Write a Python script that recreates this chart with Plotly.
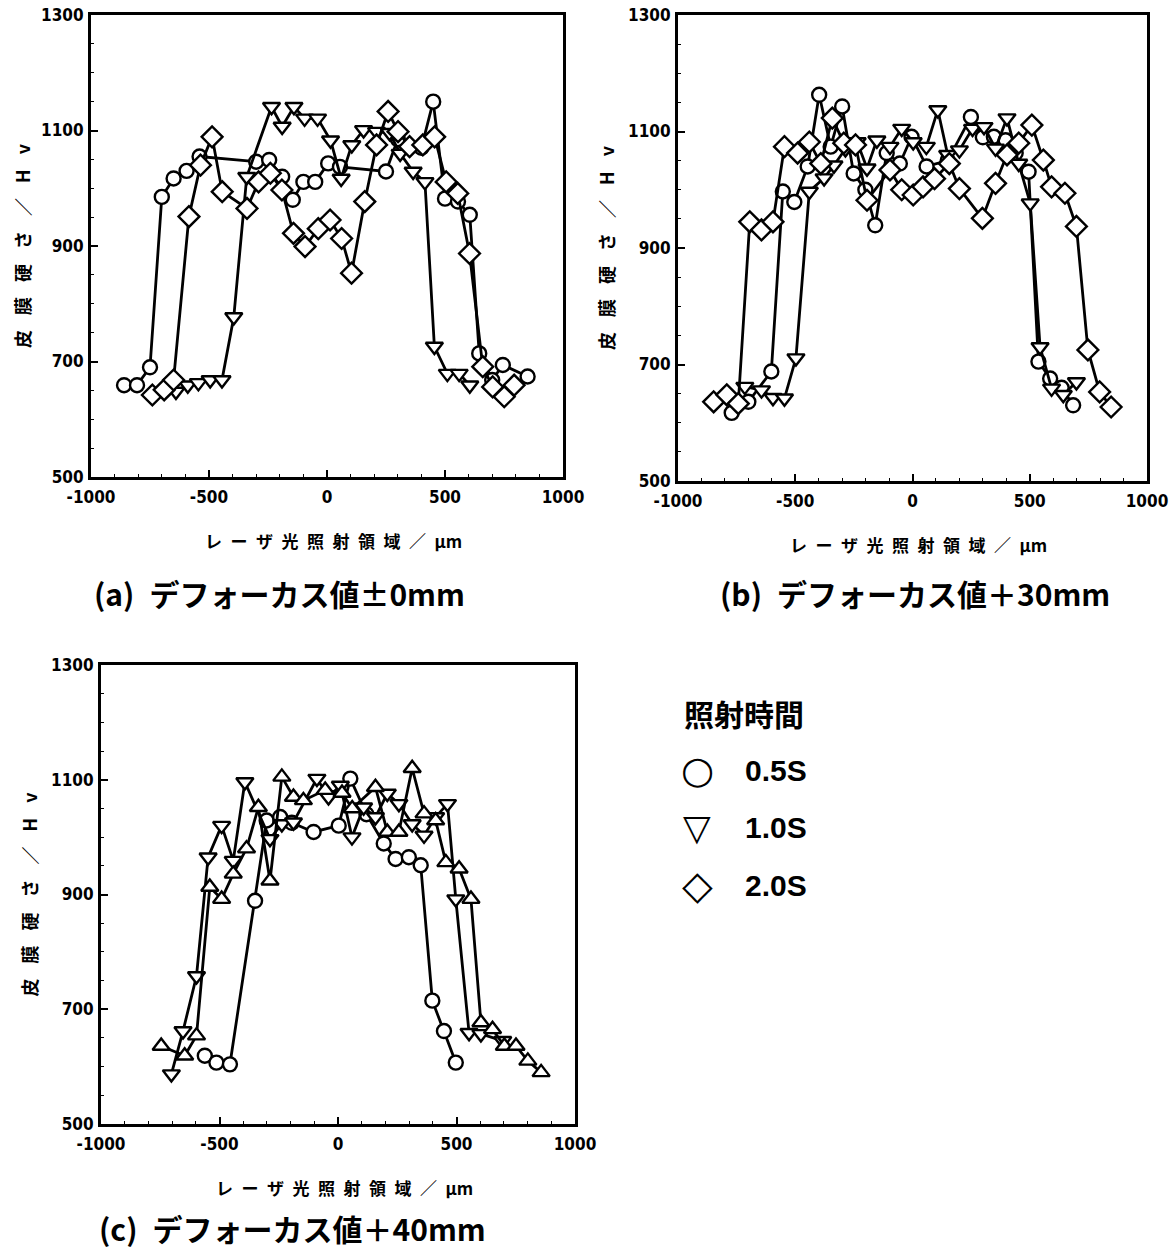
import plotly.graph_objects as go

# ---------------- data: hardness profiles across the laser-irradiated zone ----------------
# (a) defocus ±0 mm
a_05_x = [-860, -805, -750, -700, -650, -595, -540, -300, -245, -190, -145, -100, -50, 5, 55, 250, 300, 400, 450, 500, 555, 605, 645, 700, 745, 850]
a_05_y = [659, 659, 690, 985, 1017, 1030, 1055, 1046, 1049, 1020, 980, 1011, 1011, 1043, 1037, 1029, 1085, 1070, 1150, 982, 977, 954, 714, 668, 694, 674]
a_10_x = [-640, -590, -545, -495, -445, -395, -340, -235, -190, -140, -95, -40, 15, 60, 105, 155, 210, 265, 310, 365, 415, 455, 510, 560, 605]
a_10_y = [648, 659, 663, 668, 668, 777, 1020, 1141, 1107, 1141, 1121, 1121, 1083, 1017, 1075, 1101, 1098, 1096, 1060, 1029, 1011, 726, 679, 679, 659]
a_20_x = [-740, -690, -650, -585, -536, -487, -444, -339, -290, -240, -191, -142, -93, -37, 13, 62, 104, 160, 210, 259, 301, 350, 406, 456, 505, 554, 604, 660, 702, 751, 793]
a_20_y = [642, 651, 668, 951, 1040, 1089, 994, 965, 1011, 1026, 997, 922, 899, 930, 945, 913, 853, 977, 1075, 1133, 1098, 1072, 1075, 1089, 1011, 991, 887, 691, 656, 639, 659]

# (b) defocus +30 mm
b_05_x = [-771, -700, -602, -553, -504, -447, -398, -349, -300, -251, -201, -159, -110, -54, -4, 60, 150, 249, 300, 347, 397, 440, 495, 537, 587, 636, 685]
b_05_y = [617, 636, 688, 997, 979, 1040, 1163, 1074, 1143, 1028, 1000, 939, 1063, 1045, 1091, 1040, 1050, 1125, 1090, 1091, 1085, 1063, 1031, 705, 676, 660, 630]
b_10_x = [-715, -644, -595, -546, -497, -440, -377, -335, -286, -236, -194, -152, -96, -46, 3, 59, 108, 150, 200, 256, 305, 354, 403, 453, 502, 544, 593, 643, 699]
b_10_y = [662, 656, 643, 642, 711, 997, 1020, 1042, 1070, 1082, 1037, 1085, 1074, 1105, 1082, 1074, 1137, 1060, 1068, 1105, 1108, 1071, 1123, 1045, 977, 730, 659, 648, 670]
b_20_x = [-848, -792, -743, -694, -644, -595, -546, -490, -440, -391, -342, -293, -243, -194, -96, -46, 3, 45, 94, 157, 200, 298, 354, 403, 453, 509, 558, 593, 650, 699, 748, 798, 847]
b_20_y = [636, 648, 633, 945, 931, 945, 1074, 1063, 1082, 1045, 1123, 1080, 1077, 982, 1034, 1000, 991, 1005, 1019, 1045, 1002, 951, 1011, 1060, 1080, 1111, 1051, 1005, 994, 937, 725, 653, 627]

# (c) defocus +40 mm
c_05_x = [-562, -513, -456, -350, -301, -244, -195, -103, 3, 52, 120, 193, 243, 299, 349, 398, 447, 497]
c_05_y = [619, 607, 604, 889, 1029, 1035, 1025, 1009, 1020, 1102, 1040, 989, 962, 965, 951, 715, 662, 607]
c_10_x = [-703, -654, -597, -548, -491, -442, -393, -287, -237, -188, -89, -40, 10, 59, 108, 158, 208, 257, 313, 363, 412, 462, 497, 553, 603, 695]
c_10_y = [587, 662, 758, 965, 1020, 959, 1096, 997, 1023, 1026, 1102, 1070, 1090, 1000, 1052, 1035, 1076, 1058, 1023, 1003, 1035, 1058, 892, 659, 657, 645]
c_20_x = [-746, -647, -597, -541, -491, -442, -386, -336, -287, -237, -188, -146, -54, 17, 60, 158, 208, 257, 313, 363, 412, 455, 511, 561, 603, 652, 702, 751, 801, 857]
c_20_y = [636, 619, 654, 913, 892, 936, 980, 1052, 924, 1105, 1070, 1064, 1082, 1077, 1050, 1087, 1009, 1009, 1120, 1041, 1029, 956, 945, 892, 677, 665, 636, 636, 610, 590]

x_tick_vals = [-1000, -500, 0, 500, 1000]
x_tick_labels = ["-1000", "-500", "0", "500", "1000"]
y_tick_vals = [500, 700, 900, 1100, 1300]
y_tick_labels = ["500", "700", "900", "1100", "1300"]

panel_titles = ["(a)\u2002デフォーカス値±0mm", "(b)\u2002デフォーカス値＋30mm", "(c)\u2002デフォーカス値＋40mm"]
x_title = "\u2002".join(["レ", "ー", "ザ", "光", "照", "射", "領", "域", "／", "μm"])
y_title = "\u2002\u2004".join(["皮", "膜", "硬", "さ", "／", "H", "v"])
legend_title = "照射時間"
legend_labels = ["0.5S", "1.0S", "2.0S"]
legend_glyphs = ["○", "▽", "◇"]

# ---------------- layout geometry (paper px) ----------------
W, H = 1176, 1251
panels = [
    # (left, right, top, bottom) in px
    (91, 563, 15, 477),
    (678, 1147, 15, 481),
    (101, 575, 665, 1124),
]
y_title_x = [22, 606, 28]

CJK = "Noto Sans CJK JP"
NUM = "DejaVu Sans Condensed"

fig = go.Figure()

series = [
    [(a_05_x, a_05_y, "circle"), (a_10_x, a_10_y, "triangle-down"), (a_20_x, a_20_y, "diamond")],
    [(b_05_x, b_05_y, "circle"), (b_10_x, b_10_y, "triangle-down"), (b_20_x, b_20_y, "diamond")],
    [(c_05_x, c_05_y, "circle"), (c_10_x, c_10_y, "triangle-down"), (c_20_x, c_20_y, "triangle-up")],
]
sizes = {"circle": 14, "triangle-down": 15, "diamond": 16, "triangle-up": 15}

for i, panel in enumerate(series):
    xa = "x" if i == 0 else f"x{i+1}"
    ya = "y" if i == 0 else f"y{i+1}"
    for xs, ys, sym in panel:
        fig.add_trace(go.Scatter(
            x=xs, y=ys, xaxis=xa, yaxis=ya, mode="lines+markers",
            line=dict(color="black", width=2.8),
            marker=dict(symbol=sym, size=sizes[sym], color="white",
                        line=dict(color="black", width=2.4)),
            showlegend=False, cliponaxis=False,
        ))

axis_common = dict(
    showline=True, linecolor="black", linewidth=3, mirror=True, automargin=False,
    showgrid=False, zeroline=False, ticks="inside", ticklen=7, tickwidth=2,
    tickcolor="black",
    tickfont=dict(family=NUM, size=17, color="black", weight="bold"),
    minor=dict(ticks="inside", ticklen=3, tickwidth=1, tickcolor="black"),
)

layout = dict(
    width=W, height=H, margin=dict(l=0, r=0, t=0, b=0, autoexpand=False),
    paper_bgcolor="white", plot_bgcolor="white", showlegend=False,
)
annotations = []
for i, (l, r, t, b) in enumerate(panels):
    sfx = "" if i == 0 else str(i + 1)
    layout["xaxis" + sfx] = dict(
        axis_common, domain=[l / W, r / W], range=[-1000, 1000],
        tickvals=x_tick_vals, ticktext=x_tick_labels, anchor="y" + sfx,
        minor=dict(axis_common["minor"], dtick=100), ticklabelstandoff=3,
    )
    layout["yaxis" + sfx] = dict(
        axis_common, domain=[1 - b / H, 1 - t / H], range=[500, 1300],
        tickvals=y_tick_vals, ticktext=y_tick_labels, anchor="x" + sfx,
        minor=dict(axis_common["minor"], dtick=50), ticklabelstandoff=1,
    )
    cx = (l + r) / 2
    # x axis title
    annotations.append(dict(
        text=x_title, xref="paper", yref="paper", x=(cx + 6) / W, y=1 - (b + 63) / H,
        showarrow=False, font=dict(family=CJK, size=17, color="black", weight="bold"),
        xanchor="center", yanchor="middle",
    ))
    # y axis title
    annotations.append(dict(
        text=y_title, xref="paper", yref="paper", x=y_title_x[i] / W, y=1 - ((t + b) / 2) / H,
        showarrow=False, textangle=-90,
        font=dict(family=CJK, size=18, color="black", weight="bold"),
        xanchor="center", yanchor="middle",
    ))

title_pos = [(92, 593), (718, 593), (97, 1228)]
for txt, (px, py) in zip(panel_titles, title_pos):
    annotations.append(dict(
        text=txt, xref="paper", yref="paper", x=px / W, y=1 - py / H,
        showarrow=False, font=dict(family=CJK, size=30, color="black", weight="bold"),
        xanchor="left", yanchor="middle",
    ))

# legend block
annotations.append(dict(
    text=legend_title, xref="paper", yref="paper", x=682 / W, y=1 - 713 / H,
    showarrow=False, font=dict(family=CJK, size=30, color="black", weight="bold"),
    xanchor="left", yanchor="middle",
))
glyph_sizes = [38, 36, 40]
for k, (g, lab) in enumerate(zip(legend_glyphs, legend_labels)):
    py = 770 + k * 57.5
    annotations.append(dict(
        text=g, xref="paper", yref="paper", x=697 / W, y=1 - py / H,
        showarrow=False, font=dict(family="DejaVu Sans", size=glyph_sizes[k], color="black"),
        xanchor="center", yanchor="middle",
    ))
    annotations.append(dict(
        text=lab, xref="paper", yref="paper", x=743 / W, y=1 - py / H,
        showarrow=False, font=dict(family="Liberation Sans", size=30, color="black", weight="bold"),
        xanchor="left", yanchor="middle",
    ))

layout["annotations"] = annotations
fig.update_layout(**layout)
fig.write_html("out.html")
